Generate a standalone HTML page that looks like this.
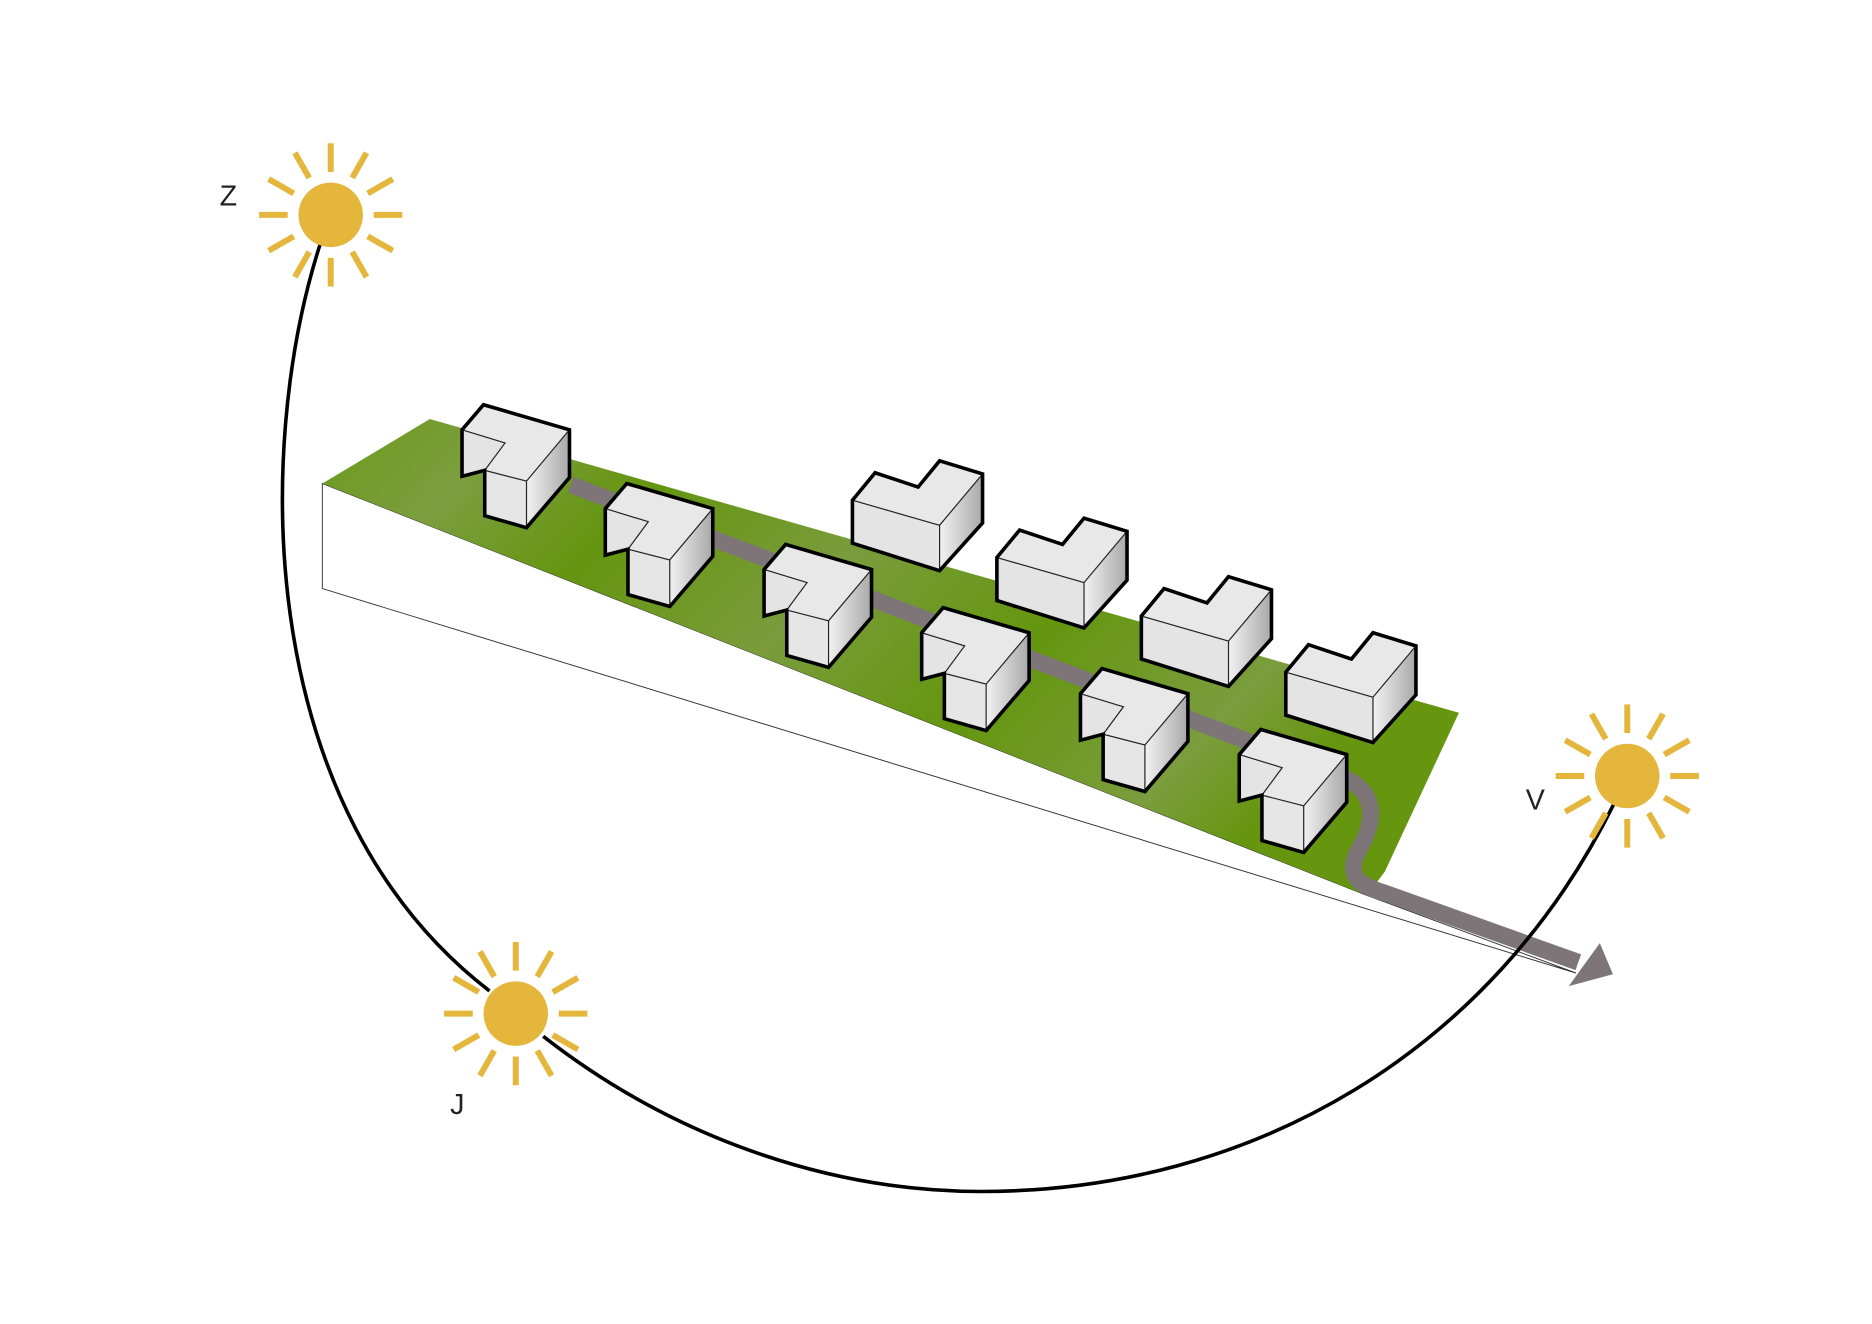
<!DOCTYPE html>
<html><head><meta charset="utf-8"><style>
html,body{margin:0;padding:0;background:#fff;}
svg{display:block;}
text{font-family:"Liberation Sans",sans-serif;font-size:24px;fill:#222;}
</style></head><body>
<svg width="1872" height="1324" viewBox="0 0 1568 1109" xmlns="http://www.w3.org/2000/svg">
<defs>
<linearGradient id="g" x1="0" y1="0" x2="1" y2="0.4">
<stop offset="0" stop-color="#6a9a1c"/><stop offset="0.15" stop-color="#7c9e3e"/><stop offset="0.3" stop-color="#64950f"/><stop offset="0.5" stop-color="#7a9c3c"/><stop offset="0.7" stop-color="#64960e"/><stop offset="0.9" stop-color="#7b9d3e"/><stop offset="1" stop-color="#66960f"/>
</linearGradient>
<linearGradient id="rf" x1="0" y1="0" x2="1" y2="0"><stop offset="0" stop-color="#f2f2f2"/><stop offset="1" stop-color="#a8a8a8"/></linearGradient>
<g id="A">
<polygon points="0,20 18,-1 90,20 54,63 19,54 36,31" fill="#e8e8e8"/>
<polygon points="0,20 36,31 19,54 0,59" fill="#e4e4e4"/>
<polygon points="19,54 54,63 54,102 19,92" fill="#e6e6e6"/>
<polygon points="54,63 90,20 90,60 54,102" fill="url(#rf)"/>
<polyline points="0,20 36,31 19,54 54,63 90,20" fill="none" stroke="#222" stroke-width="1"/>
<line x1="54" y1="63" x2="54" y2="102" stroke="#222" stroke-width="1"/>
<polygon points="0,20 18,-1 90,20 90,60 54,102 19,92 19,54 0,59" fill="none" stroke="#000" stroke-width="3" stroke-linejoin="miter"/>
</g>
<g id="B">
<polygon points="0,33 19,10 55,22 73,0 109,11 73,54" fill="#e8e8e8"/>
<polygon points="0,33 73,54 73,92 0,69" fill="#e4e4e4"/>
<polygon points="73,54 109,11 109,52 73,92" fill="url(#rf)"/>
<polyline points="0,33 73,54 109,11" fill="none" stroke="#222" stroke-width="1"/>
<line x1="73" y1="54" x2="73" y2="92" stroke="#222" stroke-width="1"/>
<polygon points="0,33 19,10 55,22 73,0 109,11 109,52 73,92 0,69" fill="none" stroke="#000" stroke-width="3"/>
</g>
<g id="sun">
<circle r="27" fill="#e4b63c"/>
<g stroke="#e4b63c" stroke-width="5" stroke-linecap="butt">
<line x1="0" y1="-36" x2="0" y2="-60"/><line x1="0" y1="36" x2="0" y2="60"/>
<line x1="-36" y1="0" x2="-60" y2="0"/><line x1="36" y1="0" x2="60" y2="0"/>
<line x1="18" y1="-31" x2="30" y2="-52"/><line x1="-18" y1="-31" x2="-30" y2="-52"/>
<line x1="18" y1="31" x2="30" y2="52"/><line x1="-18" y1="31" x2="-30" y2="52"/>
<line x1="31" y1="-18" x2="52" y2="-30"/><line x1="-31" y1="-18" x2="-52" y2="-30"/>
<line x1="31" y1="18" x2="52" y2="30"/><line x1="-31" y1="18" x2="-52" y2="30"/>
</g>
</g>
</defs>
<polygon points="270,405 1145,750 1320,815 270,493" fill="#fff" stroke="#333" stroke-width="0.8"/>
<polygon points="270,405 360,351 1222,597 1160,730 1145,750" fill="url(#g)"/>
<path d="M478,406 L1122,650 C1160,664 1148,695 1138,712 C1126,735 1140,742 1160,748 L1322,806" fill="none" stroke="#7d7577" stroke-width="14"/>
<polygon points="1314,826 1351,816 1340,790" fill="#7d7577"/>
<use href="#B" x="714" y="386"/>
<use href="#B" x="835" y="434"/>
<use href="#B" x="956" y="483"/>
<use href="#B" x="1077" y="530"/>
<use href="#A" x="387" y="340"/>
<use href="#A" x="507" y="406"/>
<use href="#A" x="640" y="457"/>
<use href="#A" x="772" y="510"/>
<use href="#A" x="905" y="561"/>
<use href="#A" x="1038" y="612"/>
<path d="M268,205 C212,380 215,680 410,830 M455,868 C560,950 690,998 822,998 C1050,998 1250,880 1352,673" fill="none" stroke="#000" stroke-width="3"/>
<use href="#sun" x="277" y="180"/>
<use href="#sun" x="432" y="849"/>
<use href="#sun" x="1363" y="650"/>
<text x="184" y="172">Z</text>
<text x="377" y="933">J</text>
<text x="1278" y="678">V</text>
</svg>
</body></html>
